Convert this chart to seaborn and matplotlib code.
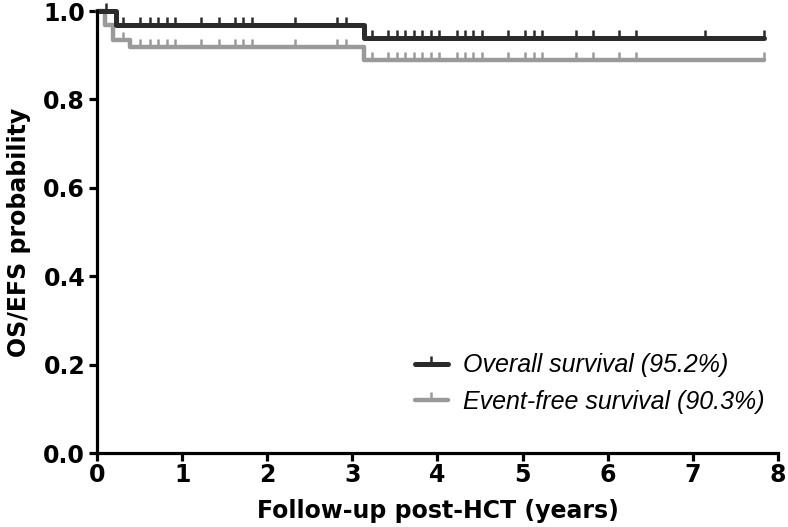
import matplotlib
matplotlib.use("Agg")
import matplotlib.pyplot as plt
from matplotlib.lines import Line2D
import seaborn as sns
import numpy as np
import pandas as pd

# Kaplan-Meier steps (years, probability)
os_times = [0.0, 0.22, 3.14, 7.84]
os_surv = [1.0, 0.968, 0.938, 0.938]
efs_times = [0.0, 0.09, 0.19, 0.39, 3.14, 7.84]
efs_surv = [1.0, 0.968, 0.935, 0.919, 0.889, 0.889]

# censored patients (tick marks)
shared_censor = [0.31, 0.51, 0.62, 0.72, 0.82, 0.92, 1.22, 1.43, 1.62, 1.72,
                 1.82, 2.33, 2.82, 2.92, 3.23, 3.42, 3.52, 3.62, 3.72, 3.82,
                 3.92, 4.02, 4.23, 4.32, 4.42, 4.52, 4.83, 5.03, 5.13, 5.23,
                 5.63, 5.83, 6.13, 6.33, 7.84]
os_only_censor = [0.11, 7.14]

labels = ["Overall survival (95.2%)", "Event-free survival (90.3%)"]
colors = ["#2b2b2b", "#9a9a9a"]

x_ticks = [0, 1, 2, 3, 4, 5, 6, 7, 8]
y_ticks = [0.0, 0.2, 0.4, 0.6, 0.8, 1.0]

sns.set_style("ticks")
plt.rcParams['font.family'] = ['Liberation Sans', 'DejaVu Sans']
plt.rcParams['text.color'] = 'black'
plt.rcParams['axes.labelcolor'] = 'black'
plt.rcParams['xtick.color'] = 'black'
plt.rcParams['ytick.color'] = 'black'
bold_font = {'family': 'DejaVu Sans', 'weight': 'bold', 'size': 17}


def surv_at(times, surv, t):
    idx = np.searchsorted(times, t, side='right') - 1
    return np.array(surv)[idx]


steps = pd.concat([
    pd.DataFrame({'time': os_times, 'surv': os_surv, 'curve': labels[0]}),
    pd.DataFrame({'time': efs_times, 'surv': efs_surv, 'curve': labels[1]}),
])

os_cens = np.sort(np.array(shared_censor + os_only_censor))
efs_cens = np.array(shared_censor)

fig = plt.figure(figsize=(7.88, 5.27), dpi=100)
ax = fig.add_axes([0.1231, 0.1404, 0.8642, 0.8387])

tick_marker = [(0, 0), (0, 1)]

# gray first so the black curve sits on top
for lab, col, lw, cens, t, s in [
        (labels[1], colors[1], 3.2, efs_cens, efs_times, efs_surv),
        (labels[0], colors[0], 3.6, os_cens, os_times, os_surv)]:
    sub = steps[steps['curve'] == lab]
    sns.lineplot(data=sub, x='time', y='surv', ax=ax, color=col, lw=lw,
                 drawstyle='steps-post', estimator=None, sort=False,
                 clip_on=False, solid_capstyle='round', legend=False)
    ax.plot(cens, surv_at(t, s, cens), linestyle='none', marker=tick_marker,
            markersize=11, markeredgewidth=1.8, color=col, clip_on=False)

ax.set_xlim(0, 8)
ax.set_ylim(0, 1.0)
ax.set_xticks(x_ticks)
ax.set_yticks(y_ticks)
ax.set_yticklabels([f"{v:.1f}" for v in y_ticks])
sns.despine(ax=ax)
for sp in ['left', 'bottom']:
    ax.spines[sp].set_linewidth(2.3)
    ax.spines[sp].set_color('black')
ax.tick_params(direction='out', length=5.5, width=2.3, color='black',
               labelcolor='black')
ax.tick_params(axis='x', pad=2)
ax.tick_params(axis='y', pad=3)
for lbl in ax.get_xticklabels() + ax.get_yticklabels():
    lbl.set_fontproperties(bold_font)

ax.set_xlabel("Follow-up post-HCT (years)", fontdict=bold_font, labelpad=8,
              color='black')
ax.set_ylabel("OS/EFS probability", fontdict=bold_font, labelpad=9,
              color='black')

handles = [
    Line2D([], [], color=colors[0], lw=3.6, marker=tick_marker, markersize=11,
           markeredgewidth=1.8, solid_capstyle='round'),
    Line2D([], [], color=colors[1], lw=3.2, marker=tick_marker, markersize=11,
           markeredgewidth=1.8, solid_capstyle='round'),
]
leg = ax.legend(handles, labels, loc='center left',
                bbox_to_anchor=(0.467, 0.157), frameon=False,
                prop={'size': 18, 'style': 'italic'}, handlelength=1.3,
                handletextpad=0.6, labelspacing=0.5, borderpad=0,
                borderaxespad=0, numpoints=1, labelcolor='black')

fig.savefig("out.png", dpi=100)
